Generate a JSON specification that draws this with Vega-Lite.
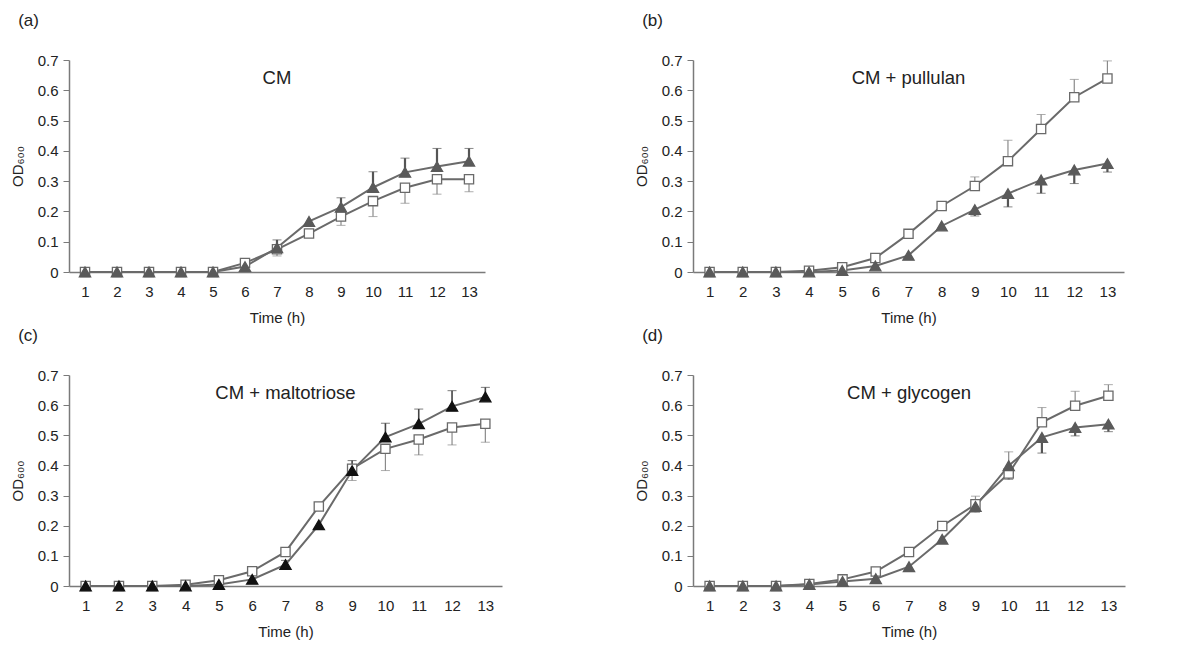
{
  "$schema": "https://vega.github.io/schema/vega-lite/v6.json",
  "padding": {"left": 10, "top": 12, "right": 5, "bottom": 5},
  "background": "white",
  "data": {"values": [
    {"panel":"a","label":"CM"},
    {"panel":"a","s":"sq","t":1,"od":0},{"panel":"a","s":"sq","t":2,"od":0},{"panel":"a","s":"sq","t":3,"od":0},{"panel":"a","s":"sq","t":4,"od":0},{"panel":"a","s":"sq","t":5,"od":0},
    {"panel":"a","s":"sq","t":6,"od":0.03},{"panel":"a","s":"sq","t":7,"od":0.075,"err":0.053},{"panel":"a","s":"sq","t":8,"od":0.127,"err":0.117},{"panel":"a","s":"sq","t":9,"od":0.183,"err":0.154},
    {"panel":"a","s":"sq","t":10,"od":0.234,"err":0.183},{"panel":"a","s":"sq","t":11,"od":0.278,"err":0.227},{"panel":"a","s":"sq","t":12,"od":0.306,"err":0.257},{"panel":"a","s":"sq","t":13,"od":0.306,"err":0.265},
    {"panel":"a","s":"tri","t":1,"od":0},{"panel":"a","s":"tri","t":2,"od":0},{"panel":"a","s":"tri","t":3,"od":0},{"panel":"a","s":"tri","t":4,"od":0},{"panel":"a","s":"tri","t":5,"od":0},
    {"panel":"a","s":"tri","t":6,"od":0.018,"err":0.03},{"panel":"a","s":"tri","t":7,"od":0.08,"err":0.106},{"panel":"a","s":"tri","t":8,"od":0.167},{"panel":"a","s":"tri","t":9,"od":0.214,"err":0.245},
    {"panel":"a","s":"tri","t":10,"od":0.279,"err":0.331},{"panel":"a","s":"tri","t":11,"od":0.329,"err":0.376},{"panel":"a","s":"tri","t":12,"od":0.348,"err":0.408},{"panel":"a","s":"tri","t":13,"od":0.366,"err":0.408},

    {"panel":"b","label":"CM + pullulan"},
    {"panel":"b","s":"sq","t":1,"od":0},{"panel":"b","s":"sq","t":2,"od":0},{"panel":"b","s":"sq","t":3,"od":0},{"panel":"b","s":"sq","t":4,"od":0.004},{"panel":"b","s":"sq","t":5,"od":0.016},
    {"panel":"b","s":"sq","t":6,"od":0.046},{"panel":"b","s":"sq","t":7,"od":0.126},{"panel":"b","s":"sq","t":8,"od":0.218},{"panel":"b","s":"sq","t":9,"od":0.284,"err":0.314},
    {"panel":"b","s":"sq","t":10,"od":0.366,"err":0.435},{"panel":"b","s":"sq","t":11,"od":0.472,"err":0.52},{"panel":"b","s":"sq","t":12,"od":0.577,"err":0.636},{"panel":"b","s":"sq","t":13,"od":0.639,"err":0.697},
    {"panel":"b","s":"tri","t":1,"od":0},{"panel":"b","s":"tri","t":2,"od":0},{"panel":"b","s":"tri","t":3,"od":0},{"panel":"b","s":"tri","t":4,"od":0},{"panel":"b","s":"tri","t":5,"od":0.005},
    {"panel":"b","s":"tri","t":6,"od":0.02},{"panel":"b","s":"tri","t":7,"od":0.055},{"panel":"b","s":"tri","t":8,"od":0.152},{"panel":"b","s":"tri","t":9,"od":0.206,"err":0.185},
    {"panel":"b","s":"tri","t":10,"od":0.259,"err":0.215},{"panel":"b","s":"tri","t":11,"od":0.304,"err":0.26},{"panel":"b","s":"tri","t":12,"od":0.337,"err":0.292},{"panel":"b","s":"tri","t":13,"od":0.358,"err":0.33},

    {"panel":"c","label":"CM + maltotriose"},
    {"panel":"c","s":"sq","t":1,"od":0},{"panel":"c","s":"sq","t":2,"od":0},{"panel":"c","s":"sq","t":3,"od":0},{"panel":"c","s":"sq","t":4,"od":0.004},{"panel":"c","s":"sq","t":5,"od":0.019},
    {"panel":"c","s":"sq","t":6,"od":0.049},{"panel":"c","s":"sq","t":7,"od":0.113},{"panel":"c","s":"sq","t":8,"od":0.264},{"panel":"c","s":"sq","t":9,"od":0.389,"err":0.35},
    {"panel":"c","s":"sq","t":10,"od":0.455,"err":0.383},{"panel":"c","s":"sq","t":11,"od":0.486,"err":0.435},{"panel":"c","s":"sq","t":12,"od":0.526,"err":0.468},{"panel":"c","s":"sq","t":13,"od":0.538,"err":0.477},
    {"panel":"c","s":"tri","t":1,"od":0},{"panel":"c","s":"tri","t":2,"od":0},{"panel":"c","s":"tri","t":3,"od":0},{"panel":"c","s":"tri","t":4,"od":0},{"panel":"c","s":"tri","t":5,"od":0.005},
    {"panel":"c","s":"tri","t":6,"od":0.022},{"panel":"c","s":"tri","t":7,"od":0.071,"err":0.085},{"panel":"c","s":"tri","t":8,"od":0.203},{"panel":"c","s":"tri","t":9,"od":0.383,"err":0.416},
    {"panel":"c","s":"tri","t":10,"od":0.494,"err":0.54},{"panel":"c","s":"tri","t":11,"od":0.538,"err":0.587},{"panel":"c","s":"tri","t":12,"od":0.596,"err":0.648},{"panel":"c","s":"tri","t":13,"od":0.627,"err":0.659},

    {"panel":"d","label":"CM + glycogen"},
    {"panel":"d","s":"sq","t":1,"od":0},{"panel":"d","s":"sq","t":2,"od":0},{"panel":"d","s":"sq","t":3,"od":0},{"panel":"d","s":"sq","t":4,"od":0.007},{"panel":"d","s":"sq","t":5,"od":0.022},
    {"panel":"d","s":"sq","t":6,"od":0.048},{"panel":"d","s":"sq","t":7,"od":0.113},{"panel":"d","s":"sq","t":8,"od":0.199},{"panel":"d","s":"sq","t":9,"od":0.271,"err":0.298},
    {"panel":"d","s":"sq","t":10,"od":0.373,"err":0.445},{"panel":"d","s":"sq","t":11,"od":0.543,"err":0.592},{"panel":"d","s":"sq","t":12,"od":0.598,"err":0.646},{"panel":"d","s":"sq","t":13,"od":0.631,"err":0.668},
    {"panel":"d","s":"tri","t":1,"od":0},{"panel":"d","s":"tri","t":2,"od":0},{"panel":"d","s":"tri","t":3,"od":0},{"panel":"d","s":"tri","t":4,"od":0.005},{"panel":"d","s":"tri","t":5,"od":0.015},
    {"panel":"d","s":"tri","t":6,"od":0.024},{"panel":"d","s":"tri","t":7,"od":0.064,"err":0.05},{"panel":"d","s":"tri","t":8,"od":0.155},{"panel":"d","s":"tri","t":9,"od":0.264,"err":0.245},
    {"panel":"d","s":"tri","t":10,"od":0.399,"err":0.354},{"panel":"d","s":"tri","t":11,"od":0.493,"err":0.441},{"panel":"d","s":"tri","t":12,"od":0.526,"err":0.498},{"panel":"d","s":"tri","t":13,"od":0.537,"err":0.512}
  ]},
  "columns": 2,
  "spacing": {"row": 2, "column": 132},
  "concat": [
    {
      "width": 416, "height": 212,
      "title": {"text": "(a)"},
      "transform": [{"filter": "datum.panel === 'a'"}],
      "layer": [
        {"transform": [{"filter": "isValid(datum.t)"}], "mark": {"type": "line", "color": "#6a6a6a", "strokeWidth": 2},
         "encoding": {"x": {"field": "t", "type": "quantitative", "scale": {"domain": [0.5, 13.5], "nice": false}, "axis": {"values": [1,2,3,4,5,6,7,8,9,10,11,12,13], "tickCount": 30, "format": "d", "title": "Time (h)", "labelOverlap": false}},
                      "y": {"field": "od", "type": "quantitative", "scale": {"domain": [0, 0.7], "nice": false}, "axis": {"values": [0,0.1,0.2,0.3,0.4,0.5,0.6,0.7], "tickCount": 30, "format": "~g", "title": "OD₆₀₀", "labelOverlap": false}},
                      "detail": {"field": "s"}}},
        {"transform": [{"filter": "isValid(datum.err) && isValid(datum.t)"}], "mark": {"type": "rule"},
         "encoding": {"x": {"field": "t", "type": "quantitative"}, "y": {"field": "od", "type": "quantitative"}, "y2": {"field": "err"},
                      "color": {"condition": {"test": "datum.s === 'tri'", "value": "#555555"}, "value": "#8a8a8a"},
                      "strokeWidth": {"condition": {"test": "datum.s === 'tri'", "value": 2.2}, "value": 1.2}}},
        {"transform": [{"filter": "isValid(datum.err) && isValid(datum.t)"}], "mark": {"type": "tick", "orient": "horizontal", "size": 9},
         "encoding": {"x": {"field": "t", "type": "quantitative"}, "y": {"field": "err", "type": "quantitative"},
                      "color": {"condition": {"test": "datum.s === 'tri'", "value": "#555555"}, "value": "#8a8a8a"},
                      "strokeWidth": {"condition": {"test": "datum.s === 'tri'", "value": 2.2}, "value": 1.2}}},
        {"transform": [{"filter": "isValid(datum.t)"}], "mark": {"type": "point", "filled": true, "opacity": 1},
         "encoding": {"x": {"field": "t", "type": "quantitative"}, "y": {"field": "od", "type": "quantitative"},
                      "shape": {"condition": {"test": "datum.s === 'tri'", "value": "triangle-up"}, "value": "square"},
                      "size": {"condition": {"test": "datum.s === 'tri'", "value": 125}, "value": 85},
                      "fill": {"condition": {"test": "datum.s === 'tri'", "value": "#5a5a5a"}, "value": "#ffffff"},
                      "stroke": {"condition": {"test": "datum.s === 'tri'", "value": "#5a5a5a"}, "value": "#6a6a6a"},
                      "strokeWidth": {"value": 1.3}}},
        {"transform": [{"filter": "isValid(datum.label)"}], "mark": {"type": "text", "fontSize": 18.5, "color": "#222222"},
         "encoding": {"x": {"datum": 7}, "y": {"datum": 0.64}, "text": {"field": "label"}}}
      ]
    },
    {
      "width": 431, "height": 212,
      "title": {"text": "(b)"},
      "transform": [{"filter": "datum.panel === 'b'"}],
      "layer": [
        {"transform": [{"filter": "isValid(datum.t)"}], "mark": {"type": "line", "color": "#6a6a6a", "strokeWidth": 2},
         "encoding": {"x": {"field": "t", "type": "quantitative", "scale": {"domain": [0.5, 13.5], "nice": false}, "axis": {"values": [1,2,3,4,5,6,7,8,9,10,11,12,13], "tickCount": 30, "format": "d", "title": "Time (h)", "labelOverlap": false}},
                      "y": {"field": "od", "type": "quantitative", "scale": {"domain": [0, 0.7], "nice": false}, "axis": {"values": [0,0.1,0.2,0.3,0.4,0.5,0.6,0.7], "tickCount": 30, "format": "~g", "title": "OD₆₀₀", "labelOverlap": false}},
                      "detail": {"field": "s"}}},
        {"transform": [{"filter": "isValid(datum.err) && isValid(datum.t)"}], "mark": {"type": "rule"},
         "encoding": {"x": {"field": "t", "type": "quantitative"}, "y": {"field": "od", "type": "quantitative"}, "y2": {"field": "err"},
                      "color": {"condition": {"test": "datum.s === 'tri'", "value": "#555555"}, "value": "#8a8a8a"},
                      "strokeWidth": {"condition": {"test": "datum.s === 'tri'", "value": 2.2}, "value": 1.2}}},
        {"transform": [{"filter": "isValid(datum.err) && isValid(datum.t)"}], "mark": {"type": "tick", "orient": "horizontal", "size": 9},
         "encoding": {"x": {"field": "t", "type": "quantitative"}, "y": {"field": "err", "type": "quantitative"},
                      "color": {"condition": {"test": "datum.s === 'tri'", "value": "#555555"}, "value": "#8a8a8a"},
                      "strokeWidth": {"condition": {"test": "datum.s === 'tri'", "value": 2.2}, "value": 1.2}}},
        {"transform": [{"filter": "isValid(datum.t)"}], "mark": {"type": "point", "filled": true, "opacity": 1},
         "encoding": {"x": {"field": "t", "type": "quantitative"}, "y": {"field": "od", "type": "quantitative"},
                      "shape": {"condition": {"test": "datum.s === 'tri'", "value": "triangle-up"}, "value": "square"},
                      "size": {"condition": {"test": "datum.s === 'tri'", "value": 125}, "value": 85},
                      "fill": {"condition": {"test": "datum.s === 'tri'", "value": "#5a5a5a"}, "value": "#ffffff"},
                      "stroke": {"condition": {"test": "datum.s === 'tri'", "value": "#5a5a5a"}, "value": "#6a6a6a"},
                      "strokeWidth": {"value": 1.3}}},
        {"transform": [{"filter": "isValid(datum.label)"}], "mark": {"type": "text", "fontSize": 18.5, "color": "#222222"},
         "encoding": {"x": {"datum": 7}, "y": {"datum": 0.64}, "text": {"field": "label"}}}
      ]
    },
    {
      "width": 433, "height": 211,
      "title": {"text": "(c)"},
      "transform": [{"filter": "datum.panel === 'c'"}],
      "layer": [
        {"transform": [{"filter": "isValid(datum.t)"}], "mark": {"type": "line", "color": "#6a6a6a", "strokeWidth": 2},
         "encoding": {"x": {"field": "t", "type": "quantitative", "scale": {"domain": [0.5, 13.5], "nice": false}, "axis": {"values": [1,2,3,4,5,6,7,8,9,10,11,12,13], "tickCount": 30, "format": "d", "title": "Time (h)", "labelOverlap": false}},
                      "y": {"field": "od", "type": "quantitative", "scale": {"domain": [0, 0.7], "nice": false}, "axis": {"values": [0,0.1,0.2,0.3,0.4,0.5,0.6,0.7], "tickCount": 30, "format": "~g", "title": "OD₆₀₀", "labelOverlap": false}},
                      "detail": {"field": "s"}}},
        {"transform": [{"filter": "isValid(datum.err) && isValid(datum.t)"}], "mark": {"type": "rule"},
         "encoding": {"x": {"field": "t", "type": "quantitative"}, "y": {"field": "od", "type": "quantitative"}, "y2": {"field": "err"},
                      "color": {"condition": {"test": "datum.s === 'tri'", "value": "#444444"}, "value": "#8a8a8a"},
                      "strokeWidth": {"condition": {"test": "datum.s === 'tri'", "value": 1.6}, "value": 1.2}}},
        {"transform": [{"filter": "isValid(datum.err) && isValid(datum.t)"}], "mark": {"type": "tick", "orient": "horizontal", "size": 9},
         "encoding": {"x": {"field": "t", "type": "quantitative"}, "y": {"field": "err", "type": "quantitative"},
                      "color": {"condition": {"test": "datum.s === 'tri'", "value": "#444444"}, "value": "#8a8a8a"},
                      "strokeWidth": {"condition": {"test": "datum.s === 'tri'", "value": 1.6}, "value": 1.2}}},
        {"transform": [{"filter": "isValid(datum.t)"}], "mark": {"type": "point", "filled": true, "opacity": 1},
         "encoding": {"x": {"field": "t", "type": "quantitative"}, "y": {"field": "od", "type": "quantitative"},
                      "shape": {"condition": {"test": "datum.s === 'tri'", "value": "triangle-up"}, "value": "square"},
                      "size": {"condition": {"test": "datum.s === 'tri'", "value": 125}, "value": 85},
                      "fill": {"condition": {"test": "datum.s === 'tri'", "value": "#111111"}, "value": "#ffffff"},
                      "stroke": {"condition": {"test": "datum.s === 'tri'", "value": "#111111"}, "value": "#6a6a6a"},
                      "strokeWidth": {"value": 1.3}}},
        {"transform": [{"filter": "isValid(datum.label)"}], "mark": {"type": "text", "fontSize": 18.5, "color": "#222222"},
         "encoding": {"x": {"datum": 7}, "y": {"datum": 0.64}, "text": {"field": "label"}}}
      ]
    },
    {
      "width": 432, "height": 211,
      "title": {"text": "(d)"},
      "transform": [{"filter": "datum.panel === 'd'"}],
      "layer": [
        {"transform": [{"filter": "isValid(datum.t)"}], "mark": {"type": "line", "color": "#6a6a6a", "strokeWidth": 2},
         "encoding": {"x": {"field": "t", "type": "quantitative", "scale": {"domain": [0.5, 13.5], "nice": false}, "axis": {"values": [1,2,3,4,5,6,7,8,9,10,11,12,13], "tickCount": 30, "format": "d", "title": "Time (h)", "labelOverlap": false}},
                      "y": {"field": "od", "type": "quantitative", "scale": {"domain": [0, 0.7], "nice": false}, "axis": {"values": [0,0.1,0.2,0.3,0.4,0.5,0.6,0.7], "tickCount": 30, "format": "~g", "title": "OD₆₀₀", "labelOverlap": false}},
                      "detail": {"field": "s"}}},
        {"transform": [{"filter": "isValid(datum.err) && isValid(datum.t)"}], "mark": {"type": "rule"},
         "encoding": {"x": {"field": "t", "type": "quantitative"}, "y": {"field": "od", "type": "quantitative"}, "y2": {"field": "err"},
                      "color": {"condition": {"test": "datum.s === 'tri'", "value": "#555555"}, "value": "#8a8a8a"},
                      "strokeWidth": {"condition": {"test": "datum.s === 'tri'", "value": 2.2}, "value": 1.2}}},
        {"transform": [{"filter": "isValid(datum.err) && isValid(datum.t)"}], "mark": {"type": "tick", "orient": "horizontal", "size": 9},
         "encoding": {"x": {"field": "t", "type": "quantitative"}, "y": {"field": "err", "type": "quantitative"},
                      "color": {"condition": {"test": "datum.s === 'tri'", "value": "#555555"}, "value": "#8a8a8a"},
                      "strokeWidth": {"condition": {"test": "datum.s === 'tri'", "value": 2.2}, "value": 1.2}}},
        {"transform": [{"filter": "isValid(datum.t)"}], "mark": {"type": "point", "filled": true, "opacity": 1},
         "encoding": {"x": {"field": "t", "type": "quantitative"}, "y": {"field": "od", "type": "quantitative"},
                      "shape": {"condition": {"test": "datum.s === 'tri'", "value": "triangle-up"}, "value": "square"},
                      "size": {"condition": {"test": "datum.s === 'tri'", "value": 125}, "value": 85},
                      "fill": {"condition": {"test": "datum.s === 'tri'", "value": "#5a5a5a"}, "value": "#ffffff"},
                      "stroke": {"condition": {"test": "datum.s === 'tri'", "value": "#5a5a5a"}, "value": "#6a6a6a"},
                      "strokeWidth": {"value": 1.3}}},
        {"transform": [{"filter": "isValid(datum.label)"}], "mark": {"type": "text", "fontSize": 18.5, "color": "#222222"},
         "encoding": {"x": {"datum": 7}, "y": {"datum": 0.64}, "text": {"field": "label"}}}
      ]
    }
  ],
  "config": {
    "font": "Liberation Sans",
    "view": {"stroke": null},
    "axis": {"grid": false, "labelFontSize": 15, "titleFontSize": 15, "titleFontWeight": "normal", "labelColor": "#222222", "titleColor": "#222222", "domainColor": "#7a7a7a", "tickColor": "#7a7a7a", "domainWidth": 1.5},
    "axisX": {"ticks": false, "labelPadding": 12, "titlePadding": 11, "labelFlush": false},
    "axisY": {"tickSize": 6, "labelPadding": 5, "titlePadding": 12},
    "title": {"anchor": "start", "frame": "bounds", "fontSize": 17, "fontWeight": "normal", "color": "#222222", "dx": 8, "offset": 23}
  }
}
